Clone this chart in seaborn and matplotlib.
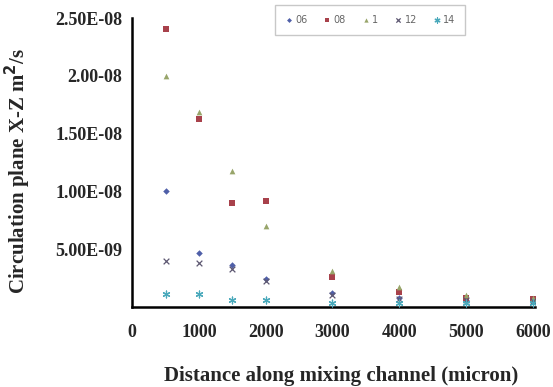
import numpy as np
import pandas as pd
import matplotlib
matplotlib.use('Agg')
import matplotlib.pyplot as plt
import seaborn as sns

# distance along the channel (micron)
distance = [500, 1000, 1500, 2000, 3000, 4000, 5000, 6000]

# circulation in the X-Z plane (m^2/s), one list per series
s06 = [1.00e-08, 4.7e-09, 3.6e-09, 2.4e-09, 1.2e-09, 0.8e-09, 0.6e-09, 0.5e-09]
s08 = [2.41e-08, 1.63e-08, 9.0e-09, 9.2e-09, 2.6e-09, 1.3e-09, 0.8e-09, 0.7e-09]
s1 = [2.00e-08, 1.69e-08, 1.18e-08, 7.0e-09, 3.1e-09, 1.7e-09, 1.0e-09, 0.8e-09]
s12 = [4.0e-09, 3.8e-09, 3.3e-09, 2.2e-09, 1.0e-09, 0.7e-09, 0.6e-09, 0.5e-09]
s14 = [1.1e-09, 1.1e-09, 0.6e-09, 0.6e-09, 0.3e-09, 0.3e-09, 0.3e-09, 0.3e-09]

series_names = ['06', '08', '1', '12', '14']
yticks = [5e-09, 1e-08, 1.5e-08, 2e-08, 2.5e-08]
ytick_labels = ['5.00E-09', '1.00E-08', '1.50E-08', '2.00-08', '2.50E-08']
xticks = [0, 1000, 2000, 3000, 4000, 5000, 6000]

df = pd.DataFrame({
    'distance': distance * 5,
    'value': s06 + s08 + s1 + s12 + s14,
    'series': [n for n in series_names for _ in distance],
})

colors = {'06': '#4f5fa8', '08': '#a8414b', '1': '#98a56a', '12': '#5e5872', '14': '#4aa9bb'}
markers = {'06': 'D', '08': 's', '1': '^', '12': 'x', '14': (6, 2, 0)}
sizes = {'06': 11, '08': 15, '1': 17, '12': 17, '14': 24}

sns.set_style('white')
plt.rcParams['font.family'] = ['Liberation Serif', 'DejaVu Serif']

fig = plt.figure(figsize=(5.53, 3.87), dpi=100)
ax = fig.add_axes([0.239, 0.207, 0.728, 0.746])

for name in series_names:
    sub = df[df['series'] == name]
    sns.scatterplot(data=sub, x='distance', y='value', ax=ax, color=colors[name],
                    marker=markers[name], s=sizes[name], linewidth=0.9 if name in ('12', '14') else 0,
                    label=name, zorder=3)

ax.set_xlim(0, 6030)
ax.set_ylim(0, 2.5e-08)
ax.set_xticks(xticks)
ax.set_xticklabels([str(x) for x in xticks], fontsize=13, fontweight='bold')
ax.set_yticks(yticks)
ax.set_yticklabels(ytick_labels, fontsize=13, fontweight='bold')
ax.tick_params(axis='x', length=0, pad=12)
ax.tick_params(axis='y', length=4, color='#bbbbbb', width=0.8, pad=3)

for side in ['top', 'right']:
    ax.spines[side].set_visible(False)
for side in ['left', 'bottom']:
    ax.spines[side].set_color('black')
    ax.spines[side].set_linewidth(1.8)

ax.set_xlabel('Distance along mixing channel (micron)', fontsize=15, fontweight='bold')
ax.xaxis.set_label_coords(0.52, -0.205)
ax.set_ylabel('Circulation plane X-Z m$^\\mathbf{2}$/s', fontsize=15, fontweight='bold')
ax.yaxis.set_label_coords(-0.247, 0.47)

leg = ax.legend(loc='upper left', bbox_to_anchor=(0.342, 1.062), ncol=5, frameon=True,
                fancybox=False, edgecolor='#bbbbbb', handletextpad=0.2,
                columnspacing=1.6, handlelength=0.9, borderpad=1.0, markerscale=0.75,
                prop={'family': 'DejaVu Sans', 'size': 7})
leg.get_frame().set_linewidth(1.0)
for t in leg.get_texts():
    t.set_color('#666666')

fig.savefig('out.png', dpi=100)
